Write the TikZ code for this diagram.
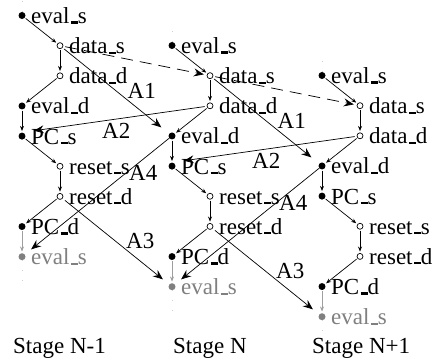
\documentclass[tikz,border=0pt]{standalone}
\usepackage{fontspec}
\setmainfont{Liberation Serif}
\usetikzlibrary{arrows.meta,calc}
\definecolor{dimgray}{gray}{0.5}
\definecolor{arrgray}{gray}{0.62}
\definecolor{faintgray}{gray}{0.82}
\newcommand\usc{\kern.06em\rule{.3em}{.09em}}
\begin{document}
\begin{tikzpicture}[x=1pt,y=-1pt,
  every node/.style={font=\fontsize{23}{27}\selectfont},
  fdot/.style={circle,fill=black,inner sep=0,minimum size=7pt},
  odot/.style={circle,draw=black,fill=white,line width=0.7pt,inner sep=0,minimum size=6pt},
  gdot/.style={circle,fill=dimgray,inner sep=0,minimum size=7pt},
  lbl/.style={anchor=base west,inner sep=0,xshift=9pt,yshift=-8pt},
  albl/.style={anchor=base west,inner sep=0},
  sarr/.style={-{Stealth[length=5pt,width=4pt]},line width=0.7pt,shorten >=1.5pt,shorten <=1pt},
  garr/.style={sarr,draw=arrgray},
  barr/.style={-{Stealth[length=10pt,width=8pt,inset=3.5pt]},line width=0.7pt},
  dsh/.style={barr,dash pattern=on 12pt off 7pt,shorten >=3pt,shorten <=2pt},
  faint/.style={draw=faintgray,line width=0.7pt,dash pattern=on 0.7pt off 9pt}
]
\useasboundingbox (0,0) rectangle (443,362);
\foreach \i in {0,1,2}{
  \pgfmathsetmacro\dx{22+150*\i}
  \pgfmathsetmacro\ox{60+150*\i}
  \pgfmathsetmacro\yy{15.5+30*\i}
  \node[fdot] (c\i-a) at (\dx,\yy) {};
  \node[odot] (c\i-b) at (\ox,\yy+30.15) {};
  \node[odot] (c\i-c) at (\ox,\yy+60.3) {};
  \node[fdot] (c\i-d) at (\dx,\yy+90.45) {};
  \node[fdot] (c\i-e) at (\dx,\yy+120.6) {};
  \node[odot] (c\i-f) at (\ox,\yy+150.75) {};
  \node[odot] (c\i-g) at (\ox,\yy+180.9) {};
  \node[fdot] (c\i-h) at (\dx,\yy+211.05) {};
  \node[gdot] (c\i-i) at (\dx,\yy+241.2) {};
  \node[lbl] (c\i-al) at (c\i-a) {eval\usc s};
  \node[lbl] (c\i-bl) at (c\i-b) {data\usc s};
  \node[lbl] (c\i-cl) at (c\i-c) {data\usc d};
  \node[lbl] (c\i-dl) at (c\i-d) {eval\usc d};
  \node[lbl] (c\i-el) at (c\i-e) {PC\usc s};
  \node[lbl] (c\i-fl) at (c\i-f) {reset\usc s};
  \node[lbl] (c\i-gl) at (c\i-g) {reset\usc d};
  \node[lbl] (c\i-hl) at (c\i-h) {PC\usc d};
  \node[lbl,text=dimgray] (c\i-il) at (c\i-i) {eval\usc s};
  \draw[sarr] (c\i-a) -- (c\i-b);
  \draw[sarr] (c\i-b) -- (c\i-c);
  \draw[sarr] (c\i-c) -- (c\i-d);
  \draw[sarr] (c\i-d) -- (c\i-e);
  \draw[sarr] (c\i-e) -- (c\i-f);
  \draw[sarr] (c\i-f) -- (c\i-g);
  \draw[sarr] (c\i-g) -- (c\i-h);
  \draw[garr] (c\i-h) -- (c\i-i);
  \coordinate (t\i) at ($(c\i-a)+(0,-16)$);
  \coordinate (u\i) at ($(c\i-i)+(0,28)$);
  \draw[faint] (c\i-a.north) -- (t\i);
  \draw[faint] (c\i-i.south) -- (u\i);
}
\foreach \i/\j in {0/1,1/2}{
  \pgfmathsetmacro\ddx{150*\i}
  \pgfmathsetmacro\ddy{30*\i}
  \draw[dsh] (c\i-b) -- (c\j-b);
  \draw[barr,shorten >=10pt,shorten <=2pt] (c\i-b) -- (c\j-d);
  \draw[barr,shorten >=12pt,shorten <=2pt] (c\j-c) -- (c\i-e.north);
  \draw[barr,shorten >=8pt] (c\j-d) -- (c\i-i);
  \draw[barr,shorten >=8pt,shorten <=3pt] (c\i-g) -- (c\j-i);
  \node[albl] (a1-\i) at (127.5+\ddx,98.5+\ddy) {A1};
  \node[albl] (a2-\i) at (102+\ddx,138+\ddy) {A2};
  \node[albl] (a4-\i) at (129+\ddx,180+\ddy) {A4};
  \node[albl] (a3-\i) at (126+\ddx,248+\ddy) {A3};
}
\node[albl] (st0) at (13,353) {Stage N-1};
\node[albl] (st1) at (173,353) {Stage N};
\node[albl] (st2) at (312,353) {Stage N+1};
\end{tikzpicture}
\end{document}
